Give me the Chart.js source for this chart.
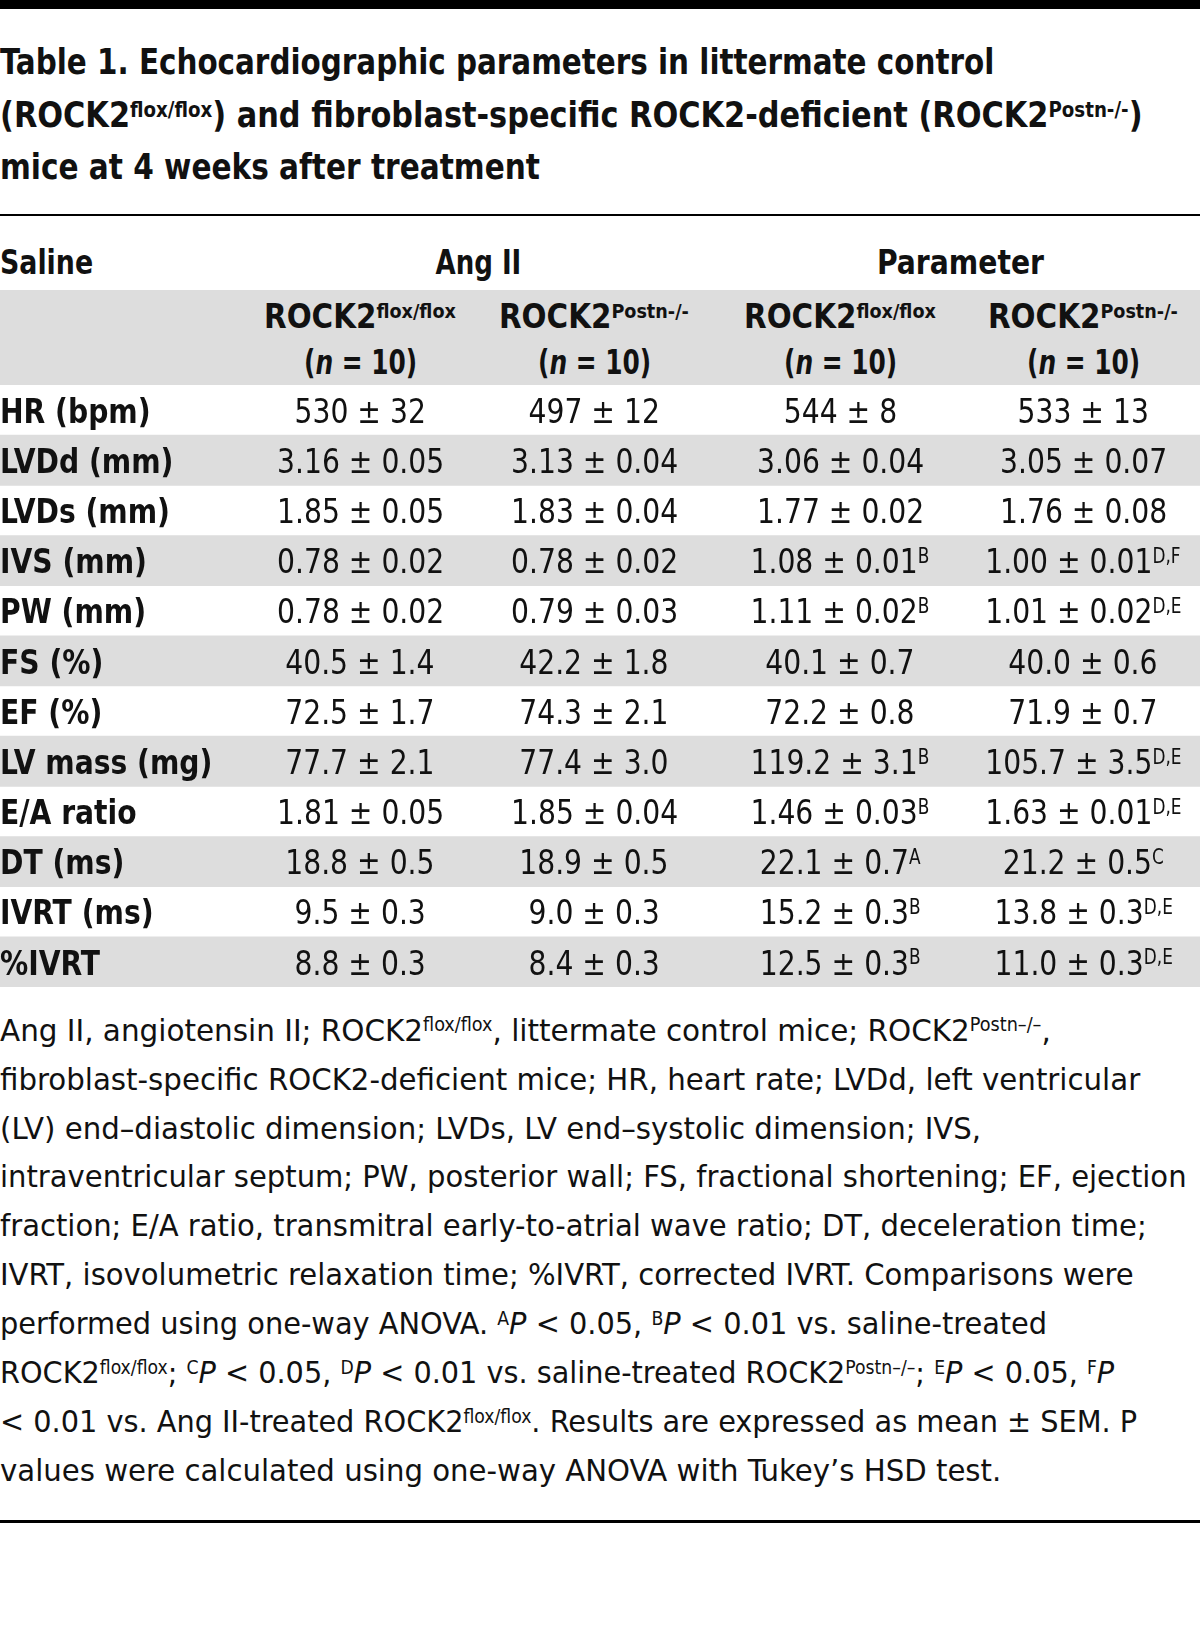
<!DOCTYPE html>
<html>
<head>
<meta charset="utf-8">
<script src="https://cdn.jsdelivr.net/npm/chart.js@4.4.1/dist/chart.umd.min.js"></script>
<style>
html,body{margin:0;padding:0;background:#fff;}
#page{position:relative;width:1200px;height:1639px;overflow:hidden;
  font-family:"Liberation Sans Narrow","DejaVu Sans Condensed","Arial Narrow",sans-serif;color:#111;}
.t{position:absolute;white-space:nowrap;display:inline-block;}
sup{font-size:0.6em;line-height:0;position:relative;top:-0.5em;vertical-align:baseline;}
.rule{position:absolute;left:0;width:1200px;background:#000;}
#band{position:absolute;left:0;width:1200px;background:#dddddd;}
#body{position:absolute;left:0;}
</style>
</head>
<body>
<div id="page">
  <div class="rule" style="top:0;height:9px"></div>
  <div class="rule" style="top:214px;height:2px"></div>
  <div id="band" style="top:290px;height:95px"></div>
  <canvas id="body" width="1200" height="602" style="top:385px;width:1200px;height:602px"></canvas>
  <div class="rule" style="top:1520px;height:3px"></div>
</div>
<script>
// ---------- data ----------
const params = ['HR (bpm)','LVDd (mm)','LVDs (mm)','IVS (mm)','PW (mm)','FS (%)','EF (%)','LV mass (mg)','E/A ratio','DT (ms)','IVRT (ms)','%IVRT'];
const salineFlox  = ['530 ± 32','3.16 ± 0.05','1.85 ± 0.05','0.78 ± 0.02','0.78 ± 0.02','40.5 ± 1.4','72.5 ± 1.7','77.7 ± 2.1','1.81 ± 0.05','18.8 ± 0.5','9.5 ± 0.3','8.8 ± 0.3'];
const salinePostn = ['497 ± 12','3.13 ± 0.04','1.83 ± 0.04','0.78 ± 0.02','0.79 ± 0.03','42.2 ± 1.8','74.3 ± 2.1','77.4 ± 3.0','1.85 ± 0.04','18.9 ± 0.5','9.0 ± 0.3','8.4 ± 0.3'];
const angFlox     = ['544 ± 8','3.06 ± 0.04','1.77 ± 0.02','1.08 ± 0.01','1.11 ± 0.02','40.1 ± 0.7','72.2 ± 0.8','119.2 ± 3.1','1.46 ± 0.03','22.1 ± 0.7','15.2 ± 0.3','12.5 ± 0.3'];
const angFloxSup  = ['','','','B','B','','','B','B','A','B','B'];
const angPostn    = ['533 ± 13','3.05 ± 0.07','1.76 ± 0.08','1.00 ± 0.01','1.01 ± 0.02','40.0 ± 0.6','71.9 ± 0.7','105.7 ± 3.5','1.63 ± 0.01','21.2 ± 0.5','13.8 ± 0.3','11.0 ± 0.3'];
const angPostnSup = ['','','','D,F','D,E','','','D,E','D,E','C','D,E','D,E'];
const groupLabels = ['Saline','Ang II','Parameter'];
const colHeads = ['ROCK2<sup>flox/flox</sup>','ROCK2<sup>Postn-/-</sup>','ROCK2<sup>flox/flox</sup>','ROCK2<sup>Postn-/-</sup>'];
const colN = ['(<i>n</i> = 10)','(<i>n</i> = 10)','(<i>n</i> = 10)','(<i>n</i> = 10)'];
const titleLines = [
  'Table 1. Echocardiographic parameters in littermate control',
  '(ROCK2<sup>flox/flox</sup>) and fibroblast-specific ROCK2-deficient (ROCK2<sup>Postn-/-</sup>)',
  'mice at 4 weeks after treatment'
];
const notes = [
  'Ang II, angiotensin II; ROCK2<sup>flox/flox</sup>, littermate control mice; ROCK2<sup>Postn–/–</sup>,',
  'fibroblast-specific ROCK2-deficient mice; HR, heart rate; LVDd, left ventricular',
  '(LV) end–diastolic dimension; LVDs, LV end–systolic dimension; IVS,',
  'intraventricular septum; PW, posterior wall; FS, fractional shortening; EF, ejection',
  'fraction; E/A ratio, transmitral early-to-atrial wave ratio; DT, deceleration time;',
  'IVRT, isovolumetric relaxation time; %IVRT, corrected IVRT. Comparisons were',
  'performed using one-way ANOVA. <sup>A</sup><i>P</i> &lt; 0.05, <sup>B</sup><i>P</i> &lt; 0.01 vs. saline-treated',
  'ROCK2<sup>flox/flox</sup>; <sup>C</sup><i>P</i> &lt; 0.05, <sup>D</sup><i>P</i> &lt; 0.01 vs. saline-treated ROCK2<sup>Postn–/–</sup>; <sup>E</sup><i>P</i> &lt; 0.05, <sup>F</sup><i>P</i>',
  '&lt; 0.01 vs. Ang II-treated ROCK2<sup>flox/flox</sup>. Results are expressed as mean ± SEM. P',
  'values were calculated using one-way ANOVA with Tukey’s HSD test.'
];

// ---------- layout ----------
const page = document.getElementById('page');
const colX = [360, 594, 840, 1083];

function addText(html, o){
  const el = document.createElement('div');
  el.className = 't';
  el.innerHTML = html;
  el.style.fontSize = o.size + 'px';
  el.style.lineHeight = o.size + 'px';
  el.style.fontWeight = o.bold ? 'bold' : 'normal';
  el.style.top = (o.base - 0.846 * o.size) + 'px';
  page.appendChild(el);
  const w = el.offsetWidth;
  el._w = w;
  if (o.align === 'center'){
    el.style.left = (o.x - w/2) + 'px';
    el.style.transformOrigin = 'center';
  } else {
    el.style.left = o.x + 'px';
    el.style.transformOrigin = 'left';
  }
  return el;
}
function setScale(el, s){ el.style.transform = 'scaleX(' + s + ')'; }
function fit(el, target){ setScale(el, target / el._w); }

// title
const titleBase = [75, 128, 180];
const titleTargets = [994, 1143, 540];
titleLines.forEach((h,i)=>{
  const el = addText(h, {size:35, bold:true, x:0, base:titleBase[i]});
  fit(el, titleTargets[i]);
});

// group header row
const gSaline = addText(groupLabels[0], {size:34, bold:true, x:0, base:274});
fit(gSaline, 93);
const gAng = addText(groupLabels[1], {size:34, bold:true, x:478, base:274, align:'center'});
fit(gAng, 86);
const gPar = addText(groupLabels[2], {size:34, bold:true, x:960, base:274, align:'center'});
fit(gPar, 167);

// column headers
const headEls = colHeads.map((h,i)=> addText(h, {size:33, bold:true, x:colX[i], base:328, align:'center'}));
const hs = 192 / headEls[0]._w;
headEls.forEach(e=>setScale(e, hs));
const nEls = colN.map((h,i)=> addText(h, {size:34, bold:true, x:colX[i], base:374, align:'center'}));
const ns = 113 / nEls[0]._w;
nEls.forEach(e=>setScale(e, ns));

// body stripes through Chart.js
const chart = new Chart(document.getElementById('body').getContext('2d'), {
  type: 'bar',
  data: {
    labels: params,
    datasets: [{
      data: params.map(()=>1),
      backgroundColor: c => (c.dataIndex % 2 === 1 ? '#dddddd' : 'rgba(255,255,255,0)'),
      borderWidth: 0,
      barPercentage: 1,
      categoryPercentage: 1
    }]
  },
  options: {
    indexAxis: 'y',
    responsive: false,
    animation: false,
    events: [],
    layout: {padding: 0},
    plugins: {legend:{display:false}, tooltip:{enabled:false}},
    scales: {
      x: {display:false, min:0, max:1},
      y: {display:false}
    }
  }
});

// row texts positioned from the chart's y scale
const yScale = chart.scales.y;
const labelEls = [], valEls = [];
params.forEach((p,i)=>{
  const cy = 385 + yScale.getPixelForValue(i);
  const base = cy + 12.5;
  labelEls.push(addText(p, {size:34, bold:true, x:0, base:base}));
  const cols = [
    salineFlox[i],
    salinePostn[i],
    angFlox[i] + (angFloxSup[i] ? '<sup>' + angFloxSup[i] + '</sup>' : ''),
    angPostn[i] + (angPostnSup[i] ? '<sup>' + angPostnSup[i] + '</sup>' : '')
  ];
  cols.forEach((h,k)=> valEls.push(addText(h, {size:34, x:colX[k], base:base, align:'center'})));
});
const ls = 212 / labelEls[7]._w;
labelEls.forEach(e=>setScale(e, ls));
const vs = 131 / valEls[0]._w;
valEls.forEach(e=>setScale(e, vs));

// footnote
const noteTargets = [1051, 1140, 981, 1187, 1147, 1134, 1047, 1114, 1137, 1001];
notes.forEach((h,i)=>{
  const el = addText(h, {size:31, x:0, base:1041 + i*48.9});
  fit(el, noteTargets[i]);
});
</script>
</body>
</html>
